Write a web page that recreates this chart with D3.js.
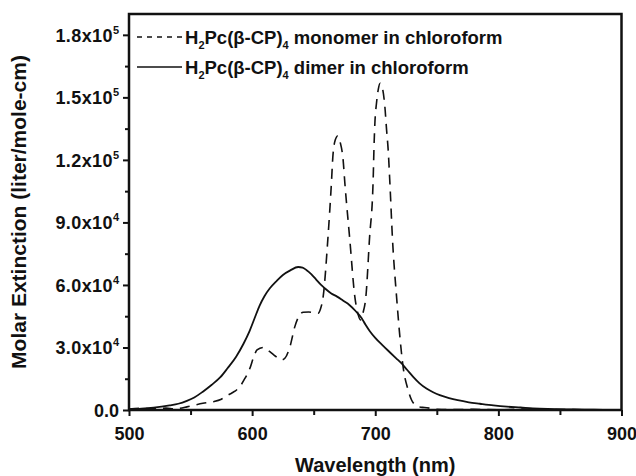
<!DOCTYPE html>
<html><head><meta charset="utf-8">
<script src="https://cdn.jsdelivr.net/npm/d3@7"></script>
<style>
html,body{margin:0;padding:0;background:#fff;}
svg text{font-family:"Liberation Sans",Arial,sans-serif;font-weight:bold;fill:#111;}
</style></head>
<body>
<svg id="chart" width="636" height="476"></svg>
<script>
// ---- data ----
const monomerWavelength = [500,510,520,530,537,541.4,547,553.6,560,568.4,575,580.6,586,590,594,598.2,601,604,609,614.4,619,624,626.6,630.7,634.7,638,641.5,646,653.6,655.5,657.7,661.5,664.5,665.5,667.5,669.5,671.5,673.9,675.3,679.3,683.4,686,688,690,692.4,695.3,698.3,699,699.7,701,702.5,704,706,707.8,709.2,710.5,711.9,714,717.3,720,722.6,726.7,729.5,733,736,740,744,750,760,780,800,820,840,860,880,900];
const monomerEpsilon = [500,800,600,900,500,800,1500,2400,3200,4000,5200,7200,9000,11200,15000,20000,25000,28800,30000,28000,25800,24000,24800,30400,40000,45000,46900,47000,46400,48500,54400,82000,110000,121000,129500,131500,128500,120000,109000,82000,54400,46000,43200,46500,54400,82000,110400,126400,137600,147200,154000,156800,154000,145600,134400,124800,108800,82000,54400,35200,20800,9600,4800,2200,1400,1200,900,300,200,300,100,400,300,200,0,0];

const dimerWavelength = [500,510,520,533,540,547,553,560,567,574,580,587,593,598,602,606,610,614.4,620,625,631,637.4,641,644,648,652,656,659,664,669,674,679,684,689,692,695.6,700,706,712,717,721,726,731,736,741.6,747,752.4,760,767,776,785,796,807,818,828,840,855,870,885,900];
const dimerEpsilon = [300,600,1100,2200,3000,4400,6000,8800,12000,15600,20000,25600,31800,38000,44000,50000,54600,58400,62000,64800,67000,68600,68300,67200,65200,62600,60000,58400,56000,54400,52400,50400,47500,44000,41000,37800,34600,31000,27600,24800,22600,19200,15800,12800,10300,8500,7100,5700,4700,3700,3000,2200,1600,1200,800,500,300,200,100,0];

const xTicks = [500,600,700,800,900];
const yTicks = [0,30000,60000,90000,120000,150000,180000];
const legendLabels = [
  {main:"H", sub:"2", mid:"Pc(β-CP)", sub2:"4", rest:" monomer in chloroform", dash:true},
  {main:"H", sub:"2", mid:"Pc(β-CP)", sub2:"4", rest:" dimer in chloroform", dash:false}
];
const xTitle = "Wavelength (nm)";
const yTitle = "Molar Extinction (liter/mole-cm)";

// ---- layout ----
const svg = d3.select("#chart");
const L = 129, R = 621.5, T = 14, B = 410;
const x = d3.scaleLinear().domain([500,900]).range([L,R]);
const y = d3.scaleLinear().domain([0,190000]).range([B,T]);

// data lines
const line = d3.line().x(d=>x(d[0])).y(d=>y(d[1])).curve(d3.curveMonotoneX);
const mono = monomerWavelength.map((w,i)=>[w,monomerEpsilon[i]]);
const dim = dimerWavelength.map((w,i)=>[w,dimerEpsilon[i]]);

svg.append("path").datum(dim).attr("d",line)
  .attr("fill","none").attr("stroke","#111").attr("stroke-width",1.8);
svg.append("path").datum(mono).attr("d",line)
  .attr("fill","none").attr("stroke","#111").attr("stroke-width",1.6)
  .attr("stroke-dasharray","10,7");

// axes
const xAxis = d3.axisBottom(x).tickValues(xTicks).tickSize(6).tickFormat(d3.format("d"));
const gx = svg.append("g").attr("transform",`translate(0,${B})`).call(xAxis);
gx.select(".domain").remove();
gx.selectAll(".tick line").attr("stroke","#111").attr("stroke-width",2);
gx.selectAll(".tick text").attr("font-size",18).attr("dy",0).attr("y",30);

const xMinor = d3.axisBottom(x).tickValues([550,650,750,850]).tickSize(5).tickFormat("");
const gxm = svg.append("g").attr("transform",`translate(0,${B})`).call(xMinor);
gxm.select(".domain").remove();
gxm.selectAll(".tick line").attr("stroke","#111").attr("stroke-width",2);

const yAxis = d3.axisLeft(y).tickValues(yTicks).tickSize(6).tickFormat("");
const gy = svg.append("g").attr("transform",`translate(${L},0)`).call(yAxis);
gy.select(".domain").remove();
gy.selectAll(".tick line").attr("stroke","#111").attr("stroke-width",2);
gy.selectAll(".tick").each(function(v){
  const t = d3.select(this).append("text").attr("x",-10).attr("y",6.5)
    .attr("text-anchor","end").attr("font-size",18).attr("fill","#111");
  if (v === 0) { t.text("0.0"); return; }
  const e = Math.floor(Math.log10(v));
  const m = (v/Math.pow(10,e)).toFixed(1);
  t.append("tspan").text(m+"x10").attr("letter-spacing","0.4px");
  t.append("tspan").text(String(e)).attr("font-size",11).attr("dy",-8);
});
const yMinor = d3.axisLeft(y).tickValues([15000,45000,75000,105000,135000,165000]).tickSize(4).tickFormat("");
const gym = svg.append("g").attr("transform",`translate(${L},0)`).call(yMinor);
gym.select(".domain").remove();
gym.selectAll(".tick line").attr("stroke","#111").attr("stroke-width",2);

// frame
svg.append("rect").attr("x",L).attr("y",T).attr("width",R-L).attr("height",B-T)
  .attr("fill","none").attr("stroke","#111").attr("stroke-width",2.5);

// titles
svg.append("text").attr("x",(L+R)/2).attr("y",472).attr("text-anchor","middle")
  .attr("font-size",20).text(xTitle);
svg.append("text").attr("transform",`translate(26,${(T+B)/2}) rotate(-90)`)
  .attr("text-anchor","middle").attr("font-size",21).text(yTitle);

// legend
const lg = svg.append("g");
legendLabels.forEach((d,i)=>{
  const ly = 37 + i*30;
  lg.append("line").attr("x1",137).attr("x2",182).attr("y1",ly).attr("y2",ly)
    .attr("stroke","#111").attr("stroke-width",1.6)
    .attr("stroke-dasharray", d.dash ? "5,5" : null);
  const t = lg.append("text").attr("x",185).attr("y",ly+7).attr("font-size",18.5);
  t.append("tspan").text(d.main);
  t.append("tspan").text(d.sub).attr("font-size",11).attr("dy",5);
  t.append("tspan").text(d.mid).attr("font-size",18.5).attr("dy",-5);
  t.append("tspan").text(d.sub2).attr("font-size",11).attr("dy",5);
  t.append("tspan").text(d.rest).attr("font-size",18.5).attr("dy",-5);
});
</script>
</body></html>
